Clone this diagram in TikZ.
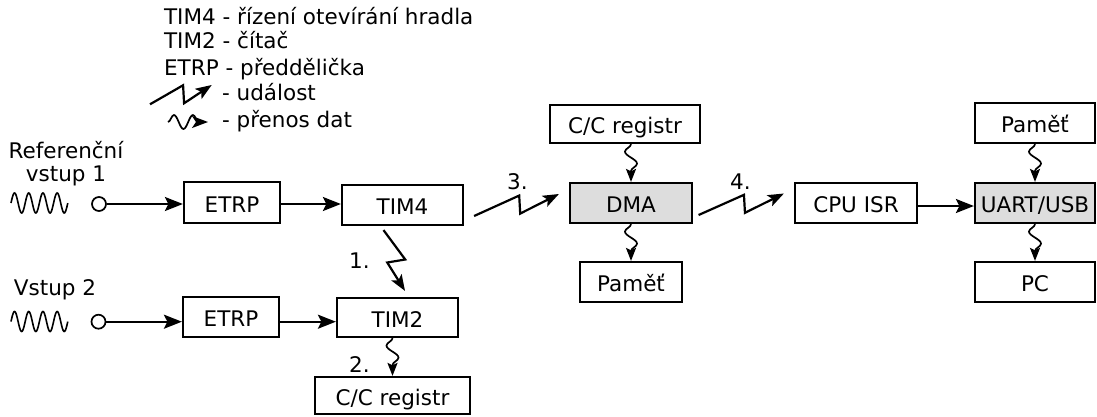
\documentclass[tikz,border=0pt]{standalone}
\usepackage{fontspec}
\setmainfont{DejaVu Sans}
\usetikzlibrary{calc,arrows.meta,decorations.pathmorphing}
\definecolor{boxgray}{RGB}{221,221,221}
\begin{document}
\begin{tikzpicture}[x=1pt,y=-1pt,line width=2.2pt,
  font=\fontsize{21.5}{25}\selectfont,
  blk/.style={draw,inner sep=0pt,minimum height=40pt,text height=20pt,text depth=1pt},
  txt/.style={inner sep=0pt,anchor=base west},
  ctxt/.style={inner sep=0pt,anchor=base},
  port/.style={draw,circle,minimum size=14pt,inner sep=0pt,line width=1.7pt},
  harrow/.style={-{Stealth[length=18pt,width=14pt,inset=3.5pt]}},
  barrow/.style={-{Stealth[length=16pt,width=12pt,inset=3.5pt]},line join=miter},
  hbolt/.style={to path={-- ($(\tikztostart)!0.52!(\tikztotarget)+(1,-9)$)
      -- ($(\tikztostart)!0.52!(\tikztotarget)+(2,9)$) -- (\tikztotarget) \tikztonodes}},
  vbolt/.style={to path={-- ($(\tikztostart)!0.5!(\tikztotarget)+(11,-1)$)
      -- ($(\tikztostart)!0.5!(\tikztotarget)+(-7,2)$) -- (\tikztotarget) \tikztonodes}},
  snk/.style={-{Stealth[length=13pt,width=10pt,inset=2.5pt]},line width=1.7pt,decorate,
      decoration={snake,amplitude=6pt,segment length=24pt,post length=2pt,mirror}},
  lsnk/.style={-{Stealth[length=16pt,width=12pt,inset=4pt]},line width=1.7pt,decorate,
      decoration={snake,amplitude=7pt,segment length=19pt,post length=4pt}},
  wave/.style={line width=1.6pt}]
\useasboundingbox (0,0) rectangle (1097,416);

% legend
\node[txt] (lg1) at (163,24) {TIM4 - řízení otevírání hradla};
\node[txt] (lg2) at (163,48) {TIM2 - čítač};
\node[txt] (lg3) at (163,75) {ETRP - předdělička};
\node[txt] (lg4) at (221,100) {- událost};
\node[txt] (lg5) at (221,127) {- přenos dat};
\coordinate (lbs) at (150,104.3);
\coordinate (lbe) at (211.7,85);
\draw[barrow] (lbs) to[hbolt] (lbe);
\coordinate (lws) at (168,122);
\coordinate (lwe) at (208,122);
\draw[lsnk] (lws) -- (lwe);

% inputs
\node[ctxt] (in1a) at (66,158) {Referenční};
\node[ctxt] (in1b) at (66,181) {vstup 1};
\node[ctxt] (in2) at (55,295.5) {Vstup 2};
\draw[wave] plot[domain=0:4,samples=140,smooth] ({11+\x*14.2},{203-10*sin(\x*360)});
\draw[wave] plot[domain=0:4,samples=140,smooth] ({11+\x*14.2},{321.5-10*sin(\x*360)});
\node[port] (c1) at (99,204) {};
\node[port] (c2) at (98.5,321.7) {};

% blocks
\node[blk,minimum width=96pt,minimum height=41pt] (e1) at (232,202.5) {ETRP};
\node[blk,minimum width=121pt] (t4) at (402.5,205) {TIM4};
\node[blk,minimum width=96pt] (e2) at (231,317) {ETRP};
\node[blk,minimum width=121pt,minimum height=39pt] (t2) at (397.5,317.5) {TIM2};
\node[blk,minimum width=155pt,minimum height=37pt] (cc2) at (392.5,395.5) {C/C registr};
\node[blk,minimum width=150pt,minimum height=38pt] (cc1) at (625,124) {C/C registr};
\node[blk,fill=boxgray,minimum width=122pt] (dma) at (631,203) {DMA};
\node[blk,minimum width=102pt] (mem1) at (631,282) {Paměť};
\node[blk,minimum width=122pt] (cpu) at (856,203) {CPU ISR};
\node[blk,minimum width=120pt] (mem2) at (1035,123) {Paměť};
\node[blk,fill=boxgray,minimum width=120pt] (uart) at (1035,203) {UART/USB};
\node[blk,minimum width=120pt] (pc) at (1035,282) {PC};

% signal paths
\draw[harrow] (c1.east) -- (c1.east -| e1.west);
\draw[harrow] (e1.east |- c1) -- (t4.west |- c1);
\draw[harrow] (c2.east) -- (c2.east -| e2.west);
\draw[harrow] (e2.east |- c2) -- (t2.west |- c2);
\draw[harrow] ($(cpu.east)+(0,3)$) -- ($(uart.west)+(0,3)$);

% events
\coordinate (b1s) at ($(t4.south)+(-19,4)$);
\coordinate (b1e) at ($(t2.north)+(7.5,-6)$);
\draw[barrow] (b1s) to[vbolt] (b1e);
\coordinate (b3s) at ($(t4.east)+(10,11)$);
\coordinate (b3e) at ($(dma.west)+(-10,-9)$);
\draw[barrow] (b3s) to[hbolt] (b3e);
\coordinate (b4s) at ($(dma.east)+(5.5,12)$);
\coordinate (b4e) at ($(cpu.west)+(-10,-9.5)$);
\draw[barrow] (b4s) to[hbolt] (b4e);
\node[txt] (s1) at (348,268) {1.};
\node[txt] (s2) at (348,372) {2.};
\node[txt] (s3) at (506,189) {3.};
\node[txt] (s4) at (729,189) {4.};

% data transfers
\draw[snk] (cc2.north |- t2.south) -- (cc2.north);
\draw[snk] (dma.north |- cc1.south) -- (dma.north);
\draw[snk] (dma.south) -- (mem1.north);
\draw[snk] (mem2.south) -- (uart.north);
\draw[snk] (uart.south) -- (pc.north);
\end{tikzpicture}
\end{document}
